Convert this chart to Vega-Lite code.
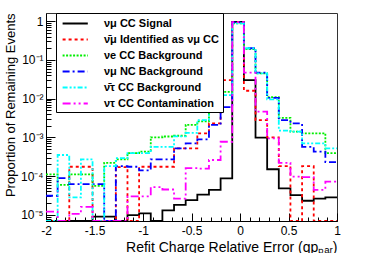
{
"$schema": "https://vega.github.io/schema/vega-lite/v6.json",
"width": 291, "height": 208,
"autosize": {"type": "none"},
"padding": {"left": 46, "top": 13, "right": 37, "bottom": 32},
"background": "white",
"config": {"view": {"stroke": "#333", "strokeWidth": 1}, "font": "Liberation Sans"},
"data": {"values": [
{"s":"νμ CC Signal","lo":-2,"hi":-1.88,"v":1e-7},
{"s":"νμ CC Signal","lo":-1.88,"hi":-1.76,"v":1e-7},
{"s":"νμ CC Signal","lo":-1.76,"hi":-1.64,"v":1e-7},
{"s":"νμ CC Signal","lo":-1.64,"hi":-1.52,"v":1e-7},
{"s":"νμ CC Signal","lo":-1.52,"hi":-1.4,"v":8.9e-6},
{"s":"νμ CC Signal","lo":-1.4,"hi":-1.28,"v":8.9e-6},
{"s":"νμ CC Signal","lo":-1.28,"hi":-1.16,"v":1e-7},
{"s":"νμ CC Signal","lo":-1.16,"hi":-1.04,"v":9.8e-6},
{"s":"νμ CC Signal","lo":-1.04,"hi":-0.92,"v":1.09e-5},
{"s":"νμ CC Signal","lo":-0.92,"hi":-0.8,"v":1e-7},
{"s":"νμ CC Signal","lo":-0.8,"hi":-0.68,"v":1.3e-5},
{"s":"νμ CC Signal","lo":-0.68,"hi":-0.56,"v":1.8e-5},
{"s":"νμ CC Signal","lo":-0.56,"hi":-0.44,"v":2.4e-5},
{"s":"νμ CC Signal","lo":-0.44,"hi":-0.32,"v":3.3e-5},
{"s":"νμ CC Signal","lo":-0.32,"hi":-0.2,"v":4.4e-5},
{"s":"νμ CC Signal","lo":-0.2,"hi":-0.08,"v":8.7e-5},
{"s":"νμ CC Signal","lo":-0.08,"hi":0.04,"v":0.96},
{"s":"νμ CC Signal","lo":0.04,"hi":0.16,"v":0.03},
{"s":"νμ CC Signal","lo":0.16,"hi":0.28,"v":9.8e-4},
{"s":"νμ CC Signal","lo":0.28,"hi":0.4,"v":1.5e-4},
{"s":"νμ CC Signal","lo":0.4,"hi":0.52,"v":4.8e-5},
{"s":"νμ CC Signal","lo":0.52,"hi":0.64,"v":3.2e-5},
{"s":"νμ CC Signal","lo":0.64,"hi":0.76,"v":2.3e-5},
{"s":"νμ CC Signal","lo":0.76,"hi":0.88,"v":2.6e-5},
{"s":"νμ CC Signal","lo":0.88,"hi":1,"v":2.8e-5},
{"s":"ν̄μ Identified as νμ CC","lo":-2,"hi":-1.88,"v":1e-7},
{"s":"ν̄μ Identified as νμ CC","lo":-1.88,"hi":-1.76,"v":1e-7},
{"s":"ν̄μ Identified as νμ CC","lo":-1.76,"hi":-1.64,"v":1.74e-4},
{"s":"ν̄μ Identified as νμ CC","lo":-1.64,"hi":-1.52,"v":1.74e-4},
{"s":"ν̄μ Identified as νμ CC","lo":-1.52,"hi":-1.4,"v":1e-7},
{"s":"ν̄μ Identified as νμ CC","lo":-1.4,"hi":-1.28,"v":1e-7},
{"s":"ν̄μ Identified as νμ CC","lo":-1.28,"hi":-1.16,"v":1.7e-4},
{"s":"ν̄μ Identified as νμ CC","lo":-1.16,"hi":-1.04,"v":1e-7},
{"s":"ν̄μ Identified as νμ CC","lo":-1.04,"hi":-0.92,"v":1.74e-4},
{"s":"ν̄μ Identified as νμ CC","lo":-0.92,"hi":-0.8,"v":1.74e-4},
{"s":"ν̄μ Identified as νμ CC","lo":-0.8,"hi":-0.68,"v":1.74e-4},
{"s":"ν̄μ Identified as νμ CC","lo":-0.68,"hi":-0.56,"v":5.2e-4},
{"s":"ν̄μ Identified as νμ CC","lo":-0.56,"hi":-0.44,"v":5.2e-4},
{"s":"ν̄μ Identified as νμ CC","lo":-0.44,"hi":-0.32,"v":1.27e-3},
{"s":"ν̄μ Identified as νμ CC","lo":-0.32,"hi":-0.2,"v":2.3e-3},
{"s":"ν̄μ Identified as νμ CC","lo":-0.2,"hi":-0.08,"v":0.03},
{"s":"ν̄μ Identified as νμ CC","lo":-0.08,"hi":0.04,"v":0.95},
{"s":"ν̄μ Identified as νμ CC","lo":0.04,"hi":0.16,"v":0.016},
{"s":"ν̄μ Identified as νμ CC","lo":0.16,"hi":0.28,"v":2.8e-3},
{"s":"ν̄μ Identified as νμ CC","lo":0.28,"hi":0.4,"v":1.0e-3},
{"s":"ν̄μ Identified as νμ CC","lo":0.4,"hi":0.52,"v":1.8e-4},
{"s":"ν̄μ Identified as νμ CC","lo":0.52,"hi":0.64,"v":1e-7},
{"s":"ν̄μ Identified as νμ CC","lo":0.64,"hi":0.76,"v":1.8e-4},
{"s":"ν̄μ Identified as νμ CC","lo":0.76,"hi":0.88,"v":1e-7},
{"s":"ν̄μ Identified as νμ CC","lo":0.88,"hi":1,"v":1e-7},
{"s":"νe CC Background","lo":-2,"hi":-1.88,"v":1.1e-4},
{"s":"νe CC Background","lo":-1.88,"hi":-1.76,"v":5.9e-5},
{"s":"νe CC Background","lo":-1.76,"hi":-1.64,"v":1.1e-4},
{"s":"νe CC Background","lo":-1.64,"hi":-1.52,"v":1.1e-4},
{"s":"νe CC Background","lo":-1.52,"hi":-1.4,"v":5.6e-5},
{"s":"νe CC Background","lo":-1.4,"hi":-1.28,"v":2.2e-4},
{"s":"νe CC Background","lo":-1.28,"hi":-1.16,"v":2.7e-4},
{"s":"νe CC Background","lo":-1.16,"hi":-1.04,"v":3.9e-4},
{"s":"νe CC Background","lo":-1.04,"hi":-0.92,"v":4.3e-4},
{"s":"νe CC Background","lo":-0.92,"hi":-0.8,"v":1.0e-3},
{"s":"νe CC Background","lo":-0.8,"hi":-0.68,"v":1.05e-3},
{"s":"νe CC Background","lo":-0.68,"hi":-0.56,"v":1.1e-3},
{"s":"νe CC Background","lo":-0.56,"hi":-0.44,"v":2.1e-3},
{"s":"νe CC Background","lo":-0.44,"hi":-0.32,"v":2.6e-3},
{"s":"νe CC Background","lo":-0.32,"hi":-0.2,"v":4.8e-3},
{"s":"νe CC Background","lo":-0.2,"hi":-0.08,"v":0.015},
{"s":"νe CC Background","lo":-0.08,"hi":0.04,"v":0.88},
{"s":"νe CC Background","lo":0.04,"hi":0.16,"v":0.19},
{"s":"νe CC Background","lo":0.16,"hi":0.28,"v":0.045},
{"s":"νe CC Background","lo":0.28,"hi":0.4,"v":0.011},
{"s":"νe CC Background","lo":0.4,"hi":0.52,"v":3.2e-3},
{"s":"νe CC Background","lo":0.52,"hi":0.64,"v":1.4e-3},
{"s":"νe CC Background","lo":0.64,"hi":0.76,"v":1.27e-3},
{"s":"νe CC Background","lo":0.76,"hi":0.88,"v":1.27e-3},
{"s":"νe CC Background","lo":0.88,"hi":1,"v":3.9e-4},
{"s":"νμ NC Background","lo":-2,"hi":-1.88,"v":3.1e-5},
{"s":"νμ NC Background","lo":-1.88,"hi":-1.76,"v":8.8e-5},
{"s":"νμ NC Background","lo":-1.76,"hi":-1.64,"v":6.2e-5},
{"s":"νμ NC Background","lo":-1.64,"hi":-1.52,"v":6.2e-5},
{"s":"νμ NC Background","lo":-1.52,"hi":-1.4,"v":6.2e-5},
{"s":"νμ NC Background","lo":-1.4,"hi":-1.28,"v":1e-7},
{"s":"νμ NC Background","lo":-1.28,"hi":-1.16,"v":1.8e-4},
{"s":"νμ NC Background","lo":-1.16,"hi":-1.04,"v":1.74e-4},
{"s":"νμ NC Background","lo":-1.04,"hi":-0.92,"v":1.4e-4},
{"s":"νμ NC Background","lo":-0.92,"hi":-0.8,"v":2.7e-4},
{"s":"νμ NC Background","lo":-0.8,"hi":-0.68,"v":2.7e-4},
{"s":"νμ NC Background","lo":-0.68,"hi":-0.56,"v":5.2e-4},
{"s":"νμ NC Background","lo":-0.56,"hi":-0.44,"v":7e-4},
{"s":"νμ NC Background","lo":-0.44,"hi":-0.32,"v":8.9e-4},
{"s":"νμ NC Background","lo":-0.32,"hi":-0.2,"v":2.1e-3},
{"s":"νμ NC Background","lo":-0.2,"hi":-0.08,"v":6e-3},
{"s":"νμ NC Background","lo":-0.08,"hi":0.04,"v":0.93},
{"s":"νμ NC Background","lo":0.04,"hi":0.16,"v":0.2},
{"s":"νμ NC Background","lo":0.16,"hi":0.28,"v":0.047},
{"s":"νμ NC Background","lo":0.28,"hi":0.4,"v":0.0105},
{"s":"νμ NC Background","lo":0.4,"hi":0.52,"v":2.8e-3},
{"s":"νμ NC Background","lo":0.52,"hi":0.64,"v":2.3e-3},
{"s":"νμ NC Background","lo":0.64,"hi":0.76,"v":5.7e-4},
{"s":"νμ NC Background","lo":0.76,"hi":0.88,"v":4.3e-4},
{"s":"νμ NC Background","lo":0.88,"hi":1,"v":2.3e-4},
{"s":"ν̄τ CC Background","lo":-2,"hi":-1.88,"v":1e-7},
{"s":"ν̄τ CC Background","lo":-1.88,"hi":-1.76,"v":3.5e-4},
{"s":"ν̄τ CC Background","lo":-1.76,"hi":-1.64,"v":2.8e-5},
{"s":"ν̄τ CC Background","lo":-1.64,"hi":-1.52,"v":2.7e-4},
{"s":"ν̄τ CC Background","lo":-1.52,"hi":-1.4,"v":1e-7},
{"s":"ν̄τ CC Background","lo":-1.4,"hi":-1.28,"v":1.8e-4},
{"s":"ν̄τ CC Background","lo":-1.28,"hi":-1.16,"v":2.9e-4},
{"s":"ν̄τ CC Background","lo":-1.16,"hi":-1.04,"v":3.9e-4},
{"s":"ν̄τ CC Background","lo":-1.04,"hi":-0.92,"v":3.9e-4},
{"s":"ν̄τ CC Background","lo":-0.92,"hi":-0.8,"v":5.7e-4},
{"s":"ν̄τ CC Background","lo":-0.8,"hi":-0.68,"v":5.7e-4},
{"s":"ν̄τ CC Background","lo":-0.68,"hi":-0.56,"v":1.06e-3},
{"s":"ν̄τ CC Background","lo":-0.56,"hi":-0.44,"v":1.3e-3},
{"s":"ν̄τ CC Background","lo":-0.44,"hi":-0.32,"v":2.8e-3},
{"s":"ν̄τ CC Background","lo":-0.32,"hi":-0.2,"v":4.9e-3},
{"s":"ν̄τ CC Background","lo":-0.2,"hi":-0.08,"v":0.0123},
{"s":"ν̄τ CC Background","lo":-0.08,"hi":0.04,"v":0.88},
{"s":"ν̄τ CC Background","lo":0.04,"hi":0.16,"v":0.2},
{"s":"ν̄τ CC Background","lo":0.16,"hi":0.28,"v":0.045},
{"s":"ν̄τ CC Background","lo":0.28,"hi":0.4,"v":9.6e-3},
{"s":"ν̄τ CC Background","lo":0.4,"hi":0.52,"v":1.5e-3},
{"s":"ν̄τ CC Background","lo":0.52,"hi":0.64,"v":1.4e-3},
{"s":"ν̄τ CC Background","lo":0.64,"hi":0.76,"v":7e-4},
{"s":"ν̄τ CC Background","lo":0.76,"hi":0.88,"v":7e-4},
{"s":"ν̄τ CC Background","lo":0.88,"hi":1,"v":5.2e-4},
{"s":"ντ CC Contamination","lo":-2,"hi":-1.88,"v":1.2e-5},
{"s":"ντ CC Contamination","lo":-1.88,"hi":-1.76,"v":1e-7},
{"s":"ντ CC Contamination","lo":-1.76,"hi":-1.64,"v":1.05e-5},
{"s":"ντ CC Contamination","lo":-1.64,"hi":-1.52,"v":1.6e-5},
{"s":"ντ CC Contamination","lo":-1.52,"hi":-1.4,"v":1e-7},
{"s":"ντ CC Contamination","lo":-1.4,"hi":-1.28,"v":1e-7},
{"s":"ντ CC Contamination","lo":-1.28,"hi":-1.16,"v":1e-7},
{"s":"ντ CC Contamination","lo":-1.16,"hi":-1.04,"v":3.0e-5},
{"s":"ντ CC Contamination","lo":-1.04,"hi":-0.92,"v":3.0e-5},
{"s":"ντ CC Contamination","lo":-0.92,"hi":-0.8,"v":5.2e-5},
{"s":"ντ CC Contamination","lo":-0.8,"hi":-0.68,"v":4.5e-5},
{"s":"ντ CC Contamination","lo":-0.68,"hi":-0.56,"v":2.6e-5},
{"s":"ντ CC Contamination","lo":-0.56,"hi":-0.44,"v":1.6e-4},
{"s":"ντ CC Contamination","lo":-0.44,"hi":-0.32,"v":1.55e-4},
{"s":"ντ CC Contamination","lo":-0.32,"hi":-0.2,"v":2.6e-4},
{"s":"ντ CC Contamination","lo":-0.2,"hi":-0.08,"v":7.7e-4},
{"s":"ντ CC Contamination","lo":-0.08,"hi":0.04,"v":0.95},
{"s":"ντ CC Contamination","lo":0.04,"hi":0.16,"v":0.047},
{"s":"ντ CC Contamination","lo":0.16,"hi":0.28,"v":4.6e-3},
{"s":"ντ CC Contamination","lo":0.28,"hi":0.4,"v":9.4e-4},
{"s":"ντ CC Contamination","lo":0.4,"hi":0.52,"v":2.2e-4},
{"s":"ντ CC Contamination","lo":0.52,"hi":0.64,"v":9.7e-5},
{"s":"ντ CC Contamination","lo":0.64,"hi":0.76,"v":9.4e-5},
{"s":"ντ CC Contamination","lo":0.76,"hi":0.88,"v":4.4e-5},
{"s":"ντ CC Contamination","lo":0.88,"hi":1,"v":7.2e-5}
]},
"transform": [{"fold": ["lo", "hi"], "as": ["edge", "x"]}],
"mark": {"type": "line", "strokeWidth": 1.8, "clip": true},
"encoding": {
  "x": {"field": "x", "type": "quantitative",
    "scale": {"domain": [-2, 1], "nice": false, "zero": false},
    "axis": {
      "values": [-2,-1.9,-1.8,-1.7,-1.6,-1.5,-1.4,-1.3,-1.2,-1.1,-1,-0.9,-0.8,-0.7,-0.6,-0.5,-0.4,-0.3,-0.2,-0.1,0,0.1,0.2,0.3,0.4,0.5,0.6,0.7,0.8,0.9,1],
      "labelExpr": "abs(datum.value*2 - round(datum.value*2)) < 0.01 ? '' + round(datum.value*10)/10 : ''",
      "tickSize": {"condition": {"test": "abs(datum.value*2 - round(datum.value*2)) < 0.01", "value": -8}, "value": -4},
      "labelPadding": 12,
      "labelFontSize": 12, "labelFont": "Liberation Sans", "labelColor": "black",
      "labelFlush": false, "labelOverlap": false,
      "grid": false, "domainColor": "black", "tickColor": "black",
      "title": "Refit Charge Relative Error (qpₚₐᵣ)",
      "titleAnchor": "end", "titleFontSize": 14, "titleFontWeight": "normal", "titleFont": "Liberation Sans", "titleColor": "black", "titlePadding": 0
    }},
  "y": {"field": "v", "type": "quantitative",
    "scale": {"type": "log", "domain": [6.9e-6, 1.63], "nice": false, "clamp": true},
    "axis": {
      "values": [7e-6,8e-6,9e-6,1e-5,2e-5,3e-5,4e-5,5e-5,6e-5,7e-5,8e-5,9e-5,1e-4,2e-4,3e-4,4e-4,5e-4,6e-4,7e-4,8e-4,9e-4,1e-3,2e-3,3e-3,4e-3,5e-3,6e-3,7e-3,8e-3,9e-3,0.01,0.02,0.03,0.04,0.05,0.06,0.07,0.08,0.09,0.1,0.2,0.3,0.4,0.5,0.6,0.7,0.8,0.9,1],
      "labelExpr": "abs(log(datum.value)/LN10 - round(log(datum.value)/LN10)) < 0.01 ? (datum.value > 0.5 ? '1' : '10' + ['', '⁻¹', '⁻²', '⁻³', '⁻⁴', '⁻⁵'][round(-log(datum.value)/LN10)]) : ''",
      "tickSize": {"condition": {"test": "abs(log(datum.value)/LN10 - round(log(datum.value)/LN10)) < 0.01", "value": -9}, "value": -5},
      "labelPadding": 12,
      "labelFontSize": 12, "labelFont": "Liberation Sans", "labelColor": "black",
      "labelFlush": false, "labelOverlap": false,
      "grid": false, "domainColor": "black", "tickColor": "black",
      "title": "Proportion of Remaining Events",
      "titleAnchor": "end", "titleFontSize": 13, "titleFontWeight": "normal", "titleFont": "Liberation Sans", "titleColor": "black", "titlePadding": 3
    }},
  "color": {"field": "s", "type": "nominal",
    "scale": {"domain": ["νμ CC Signal", "ν̄μ Identified as νμ CC", "νe CC Background", "νμ NC Background", "ν̄τ CC Background", "ντ CC Contamination"],
              "range": ["#000000", "#ff0000", "#00ee00", "#0000ff", "#00ffff", "#ff00ff"]},
    "legend": {"orient": "none", "legendX": 10, "legendY": 0, "title": null,
      "fillColor": "white", "strokeColor": "black", "padding": 3.5, "rowPadding": 4,
      "labelFont": "Liberation Sans", "labelFontSize": 11, "labelFontWeight": "bold", "labelColor": "black",
      "symbolType": "M-2.1,0H2.1", "symbolSize": 144, "symbolStrokeWidth": 2, "symbolOffset": 8.7, "labelOffset": 21.8}},
  "strokeDash": {"field": "s", "type": "nominal",
    "scale": {"domain": ["νμ CC Signal", "ν̄μ Identified as νμ CC", "νe CC Background", "νμ NC Background", "ν̄τ CC Background", "ντ CC Contamination"],
              "range": [[1, 0], [3, 3], [2, 1.5], [7, 3, 2, 3], [5, 2, 2, 2, 2, 2], [8, 3, 2, 3, 2, 3]]}},
  "order": [{"field": "x", "type": "quantitative"}, {"field": "edge", "type": "nominal"}]
}
}
